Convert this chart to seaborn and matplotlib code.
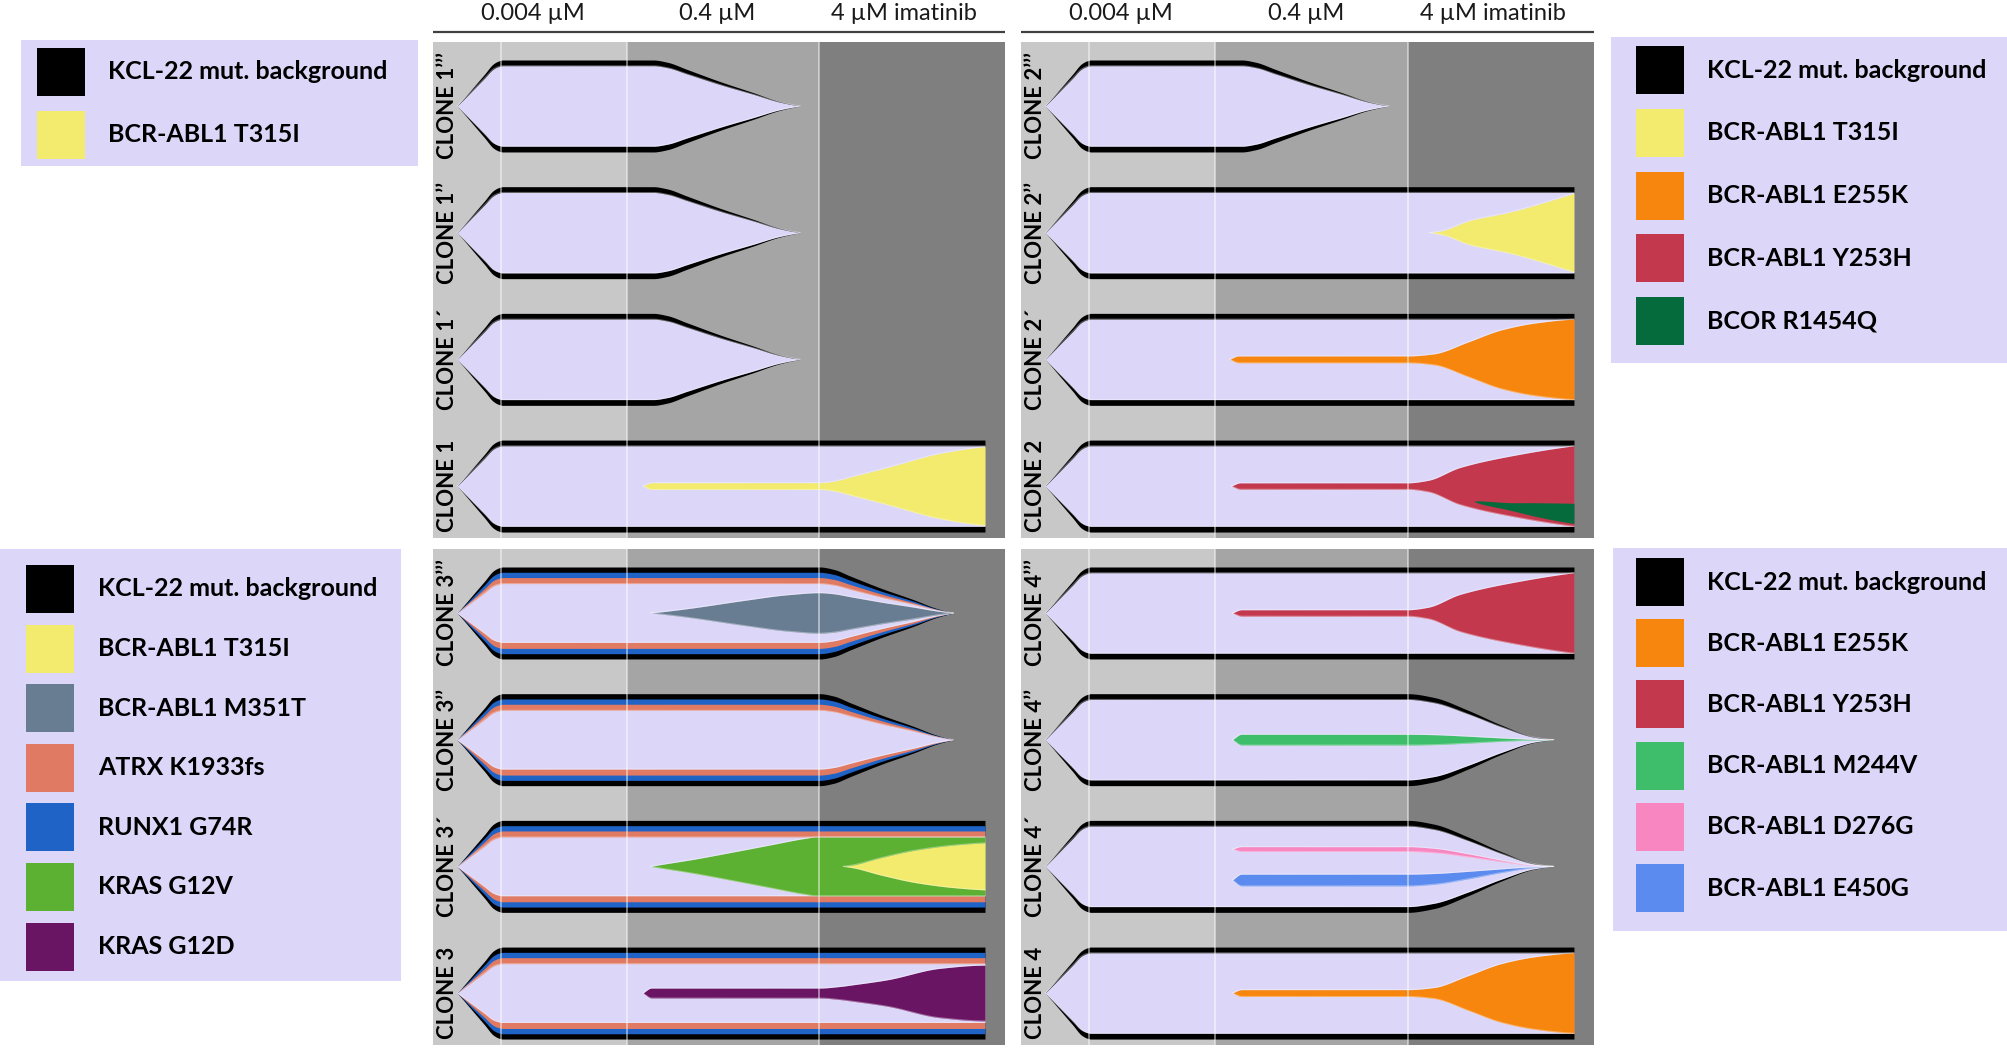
import numpy as np
import matplotlib
matplotlib.use("Agg")
import matplotlib.pyplot as plt
import seaborn as sns

sns.set_theme(style="white")
plt.rcParams['font.family'] = ['Lato', 'DejaVu Sans']

# ------------------------------------------------------------------ data
DOSES = ["0.004 µM", "0.4 µM", "4 µM imatinib"]
DOSE_LABEL_X = [17.5, 49.7, 82.4]
BAND_EDGES = [0, 33.9, 67.5, 100]      # dose schedule on the time axis
PLATEAU_MARK = 11.9

# root (KCL-22 background) size profiles, fraction of full fish height
FISH_EARLY_T = [4.2, 5.0, 7.0, 9.0, 10.6, 11.5, 12.2, 38.5, 41.0, 44.3, 50.2, 56.0, 60.5, 64.2]
FISH_EARLY_S = [0, 0.11, 0.40, 0.69, 0.92, 0.98, 1.0, 1.0, 0.95, 0.80, 0.53, 0.29, 0.10, 0]
FISH_MID_T = [4.2, 5.0, 7.0, 9.0, 10.6, 11.5, 12.2, 67.6, 70.0, 73.0, 78.5, 84.0, 88.0, 91.0]
FISH_MID_S = [0, 0.11, 0.40, 0.69, 0.92, 0.98, 1.0, 1.0, 0.95, 0.80, 0.53, 0.29, 0.10, 0]
FISH_LATE_T = [4.2, 5.0, 7.0, 9.0, 10.6, 11.5, 12.2, 67.5, 72.0, 78.0, 83.8, 89.6, 93.0]
FISH_LATE_S = [0, 0.11, 0.40, 0.69, 0.92, 0.98, 1.0, 1.0, 0.92, 0.64, 0.32, 0.06, 0]
FISH_FULL_T = [4.2, 5.0, 7.0, 9.0, 10.6, 11.5, 12.2, 96.5]
FISH_FULL_S = [0, 0.11, 0.40, 0.69, 0.92, 0.98, 1.0, 1.0]

# constant nested layers (fraction of parent)
LAYER_T = [0, 100]
PARENTAL_REL = [0.875, 0.875]
RUNX1_REL = [0.885, 0.885]
ATRX_REL = [0.87, 0.87]
PARENTAL3_REL = [0.83, 0.83]

# subclone profiles, fraction of parent population
T315I_C1_T = [36.7, 38.3, 67.7, 70.0, 73.4, 79.4, 88.6, 96.5]
T315I_C1_S = [0, 0.084, 0.084, 0.12, 0.24, 0.46, 0.81, 0.98]
T315I_C2_T = [71.3, 73.5, 78.3, 85.0, 91.8, 96.5]
T315I_C2_S = [0, 0.05, 0.30, 0.50, 0.77, 0.98]
E255K_C2_T = [36.4, 38.0, 67.5, 72.0, 78.0, 83.8, 89.6, 96.5]
E255K_C2_S = [0, 0.085, 0.085, 0.135, 0.43, 0.73, 0.90, 1.0]
Y253H_C2_T = [36.7, 38.3, 67.5, 71.0, 76.6, 86.7, 96.5]
Y253H_C2_S = [0, 0.08, 0.08, 0.14, 0.46, 0.78, 1.0]
BCOR_T = [79.0, 79.8, 85.0, 90.0, 96.5]
BCOR_S = [0, 0.05, 0.12, 0.20, 0.25]
BCOR_POS = -0.34
M351T_T = [38.0, 40.0, 44.6, 54.5, 62.0, 67.6, 91.0]
M351T_S = [0, 0.04, 0.15, 0.43, 0.62, 0.69, 0.69]
G12V_T = [38.0, 39.5, 45.0, 52.0, 59.0, 65.0, 67.0, 96.5]
G12V_S = [0, 0.05, 0.22, 0.47, 0.73, 0.95, 1.0, 1.0]
T315I_C3_T = [71.7, 73.5, 78.0, 84.6, 91.4, 96.5]
T315I_C3_S = [0, 0.05, 0.28, 0.56, 0.73, 0.80]
G12D_T = [36.7, 38.2, 67.6, 71.0, 73.4, 79.4, 88.6, 96.5]
G12D_S = [0, 0.17, 0.17, 0.22, 0.28, 0.45, 0.84, 0.95]
Y253H_C4_T = [36.9, 38.5, 67.5, 71.0, 76.6, 86.7, 96.5]
Y253H_C4_S = [0, 0.08, 0.08, 0.14, 0.46, 0.78, 1.0]
M244V_T = [36.9, 38.5, 93.0]
M244V_S = [0, 0.135, 0.135]
D276G_T = [36.9, 38.5, 93.0]
D276G_S = [0, 0.06, 0.06]
D276G_POS = 0.215
E450G_T = [36.9, 38.5, 93.0]
E450G_S = [0, 0.146, 0.146]
E450G_POS = -0.17
E255K_C4_T = [36.9, 38.5, 67.5, 72.0, 78.0, 83.8, 89.6, 96.5]
E255K_C4_S = [0, 0.085, 0.085, 0.135, 0.43, 0.73, 0.90, 1.0]

LABELS_1 = ["CLONE 1’’’", "CLONE 1’’", "CLONE 1´", "CLONE 1"]
LABELS_2 = ["CLONE 2’’’", "CLONE 2’’", "CLONE 2´", "CLONE 2"]
LABELS_3 = ["CLONE 3’’’", "CLONE 3’’", "CLONE 3´", "CLONE 3"]
LABELS_4 = ["CLONE 4’’’", "CLONE 4’’", "CLONE 4´", "CLONE 4"]

LEGEND_1 = ["KCL-22 mut. background", "BCR-ABL1 T315I"]
LEGEND_2 = ["KCL-22 mut. background", "BCR-ABL1 T315I", "BCR-ABL1 E255K",
            "BCR-ABL1 Y253H", "BCOR R1454Q"]
LEGEND_3 = ["KCL-22 mut. background", "BCR-ABL1 T315I", "BCR-ABL1 M351T",
            "ATRX K1933fs", "RUNX1 G74R", "KRAS G12V", "KRAS G12D"]
LEGEND_4 = ["KCL-22 mut. background", "BCR-ABL1 E255K", "BCR-ABL1 Y253H",
            "BCR-ABL1 M244V", "BCR-ABL1 D276G", "BCR-ABL1 E450G"]

# ------------------------------------------------------------------ style
COLORS = {
    "KCL-22 mut. background": "#000000",
    "BCR-ABL1 T315I": "#F2EB6E",
    "BCR-ABL1 M351T": "#687D92",
    "ATRX K1933fs": "#E07A63",
    "RUNX1 G74R": "#1F63C6",
    "KRAS G12V": "#5CB133",
    "KRAS G12D": "#6A1464",
    "BCR-ABL1 E255K": "#F7860F",
    "BCR-ABL1 Y253H": "#C3384D",
    "BCOR R1454Q": "#066B3C",
    "BCR-ABL1 M244V": "#3EBD6B",
    "BCR-ABL1 D276G": "#F886C1",
    "BCR-ABL1 E450G": "#5B8BEE",
    "parental": "#DCD7F8",
}
LEG_BG = "#DCD6F8"
BAND_COLORS = ["#C8C8C8", "#A5A5A5", "#7F7F7F"]
FISH_H = 0.726

W, H = 2008, 1048
fig = plt.figure(figsize=(W / 100, H / 100), dpi=100, facecolor="white")


def frac(box):
    x0, y0, x1, y1 = box
    return [x0 / W, 1 - y1 / H, (x1 - x0) / W, (y1 - y0) / H]


def pchip(xk, yk, x):
    xk = np.asarray(xk, float)
    yk = np.asarray(yk, float)
    n = len(xk)
    h = np.diff(xk)
    dl = np.diff(yk) / h
    d = np.zeros(n)
    if n == 2:
        d[:] = dl[0]
    else:
        for k in range(1, n - 1):
            if dl[k - 1] * dl[k] <= 0:
                d[k] = 0.0
            else:
                w1 = 2 * h[k] + h[k - 1]
                w2 = h[k] + 2 * h[k - 1]
                d[k] = (w1 + w2) / (w1 / dl[k - 1] + w2 / dl[k])

        def ends(h0, h1, m0, m1):
            dd = ((2 * h0 + h1) * m0 - h0 * m1) / (h0 + h1)
            if np.sign(dd) != np.sign(m0):
                dd = 0.0
            elif np.sign(m0) != np.sign(m1) and abs(dd) > abs(3 * m0):
                dd = 3 * m0
            return dd
        d[0] = ends(h[0], h[1], dl[0], dl[1])
        d[-1] = ends(h[-1], h[-2], dl[-1], dl[-2])
    out = np.full(x.shape, np.nan)
    valid = (x >= xk[0]) & (x <= xk[-1])
    idx = np.clip(np.searchsorted(xk, x, side="right") - 1, 0, n - 2)
    hh = h[idx]
    s = (x - xk[idx]) / hh
    h00 = 2 * s**3 - 3 * s**2 + 1
    h10 = s**3 - 2 * s**2 + s
    h01 = -2 * s**3 + 3 * s**2
    h11 = s**3 - s**2
    val = h00 * yk[idx] + h10 * hh * d[idx] + h01 * yk[idx + 1] + h11 * hh * d[idx + 1]
    out[valid] = np.clip(val[valid], 0, None)
    return out


TGRID = np.linspace(0, 100, 4001)


def draw_fish(ax, row, nodes):
    sizes, cents = [], []
    for z, (color, parent, T, S, pos, halo) in enumerate(nodes):
        prof = pchip(T, S, TGRID)
        if parent is None:
            size = prof
            cen = np.zeros_like(prof)
        else:
            size = prof * sizes[parent]
            cen = cents[parent] + pos * sizes[parent]
        sizes.append(size)
        cents.append(cen)
        ok = np.isfinite(size) & (size > 1e-4)
        top = row - (cen + size / 2) * FISH_H
        bot = row - (cen - size / 2) * FISH_H
        ax.fill_between(TGRID, np.where(ok, top, np.nan), np.where(ok, bot, np.nan),
                        where=ok, color=color, lw=0, zorder=2 + z)
        if halo:
            for edge in (top, bot):
                ax.plot(TGRID, np.where(ok, edge, np.nan), color="white",
                        lw=0.8, alpha=0.35, zorder=2 + z + 0.5)


BG = COLORS["KCL-22 mut. background"]
PAR = COLORS["parental"]


def base(T, S):
    return [(BG, None, T, S, 0, False), (PAR, 0, LAYER_T, PARENTAL_REL, 0, True)]


def base3(T, S):
    return [(BG, None, T, S, 0, False),
            (COLORS["RUNX1 G74R"], 0, LAYER_T, RUNX1_REL, 0, False),
            (COLORS["ATRX K1933fs"], 1, LAYER_T, ATRX_REL, 0, False),
            (PAR, 2, LAYER_T, PARENTAL3_REL, 0, True)]


CLONES_1 = [
    base(FISH_EARLY_T, FISH_EARLY_S),
    base(FISH_EARLY_T, FISH_EARLY_S),
    base(FISH_EARLY_T, FISH_EARLY_S),
    base(FISH_FULL_T, FISH_FULL_S) + [(COLORS["BCR-ABL1 T315I"], 1, T315I_C1_T, T315I_C1_S, 0, True)],
]
CLONES_2 = [
    base(FISH_EARLY_T, FISH_EARLY_S),
    base(FISH_FULL_T, FISH_FULL_S) + [(COLORS["BCR-ABL1 T315I"], 1, T315I_C2_T, T315I_C2_S, 0, True)],
    base(FISH_FULL_T, FISH_FULL_S) + [(COLORS["BCR-ABL1 E255K"], 1, E255K_C2_T, E255K_C2_S, 0, True)],
    base(FISH_FULL_T, FISH_FULL_S) + [(COLORS["BCR-ABL1 Y253H"], 1, Y253H_C2_T, Y253H_C2_S, 0, True),
                                      (COLORS["BCOR R1454Q"], 2, BCOR_T, BCOR_S, BCOR_POS, False)],
]
CLONES_3 = [
    base3(FISH_MID_T, FISH_MID_S) + [(COLORS["BCR-ABL1 M351T"], 3, M351T_T, M351T_S, 0, True)],
    base3(FISH_MID_T, FISH_MID_S),
    base3(FISH_FULL_T, FISH_FULL_S) + [(COLORS["KRAS G12V"], 3, G12V_T, G12V_S, 0, True),
                                       (COLORS["BCR-ABL1 T315I"], 4, T315I_C3_T, T315I_C3_S, 0, True)],
    base3(FISH_FULL_T, FISH_FULL_S) + [(COLORS["KRAS G12D"], 3, G12D_T, G12D_S, 0, True)],
]
CLONES_4 = [
    base(FISH_FULL_T, FISH_FULL_S) + [(COLORS["BCR-ABL1 Y253H"], 1, Y253H_C4_T, Y253H_C4_S, 0, True)],
    base(FISH_LATE_T, FISH_LATE_S) + [(COLORS["BCR-ABL1 M244V"], 1, M244V_T, M244V_S, 0, True)],
    base(FISH_LATE_T, FISH_LATE_S) + [(COLORS["BCR-ABL1 D276G"], 1, D276G_T, D276G_S, D276G_POS, True),
                                      (COLORS["BCR-ABL1 E450G"], 1, E450G_T, E450G_S, E450G_POS, True)],
    base(FISH_FULL_T, FISH_FULL_S) + [(COLORS["BCR-ABL1 E255K"], 1, E255K_C4_T, E255K_C4_S, 0, True)],
]


def draw_panel(box, labels, clones):
    ax = fig.add_axes(frac(box))
    ax.set_xlim(0, 100)
    ax.set_ylim(3.41, -0.505)
    ax.axis("off")
    for i, (lo, hi) in enumerate(zip(BAND_EDGES[:-1], BAND_EDGES[1:])):
        ax.axvspan(lo, hi, color=BAND_COLORS[i], lw=0, zorder=0)
    for row, (lab, nodes) in enumerate(zip(labels, clones)):
        draw_fish(ax, row, nodes)
        ax.text(2.45, row, lab, rotation=90, ha="center", va="center",
                fontsize=16, fontweight="bold", color="black", zorder=30)
    for x in [PLATEAU_MARK] + BAND_EDGES[1:-1]:
        ax.axvline(x, color="white", lw=1.3, alpha=0.5, zorder=25)


def draw_header(box):
    ax = fig.add_axes(frac(box))
    ax.set_xlim(0, 100)
    ax.set_ylim(box[3] - box[1], 0)
    ax.axis("off")
    ax.axhline(32, color="#404040", lw=1.6)
    for m, lab in zip(DOSE_LABEL_X, DOSES):
        ax.text(m, 14, lab, ha="center", va="center", fontsize=17, color="#1a1a1a")


def draw_legend(box, items, row0, step, sw_x, txt_x):
    ax = fig.add_axes(frac(box))
    w, h = box[2] - box[0], box[3] - box[1]
    ax.set_xlim(0, w)
    ax.set_ylim(h, 0)
    ax.set_facecolor(LEG_BG)
    ax.set_xticks([])
    ax.set_yticks([])
    sns.despine(ax=ax, left=True, bottom=True)
    ys = row0 + step * np.arange(len(items))
    ax.scatter([sw_x] * len(items), ys, marker="s", s=(48 * 0.72) ** 2,
               c=[COLORS[i] for i in items], linewidths=0)
    for y, lab in zip(ys, items):
        ax.text(txt_x, y, lab, ha="left", va="center", fontsize=18,
                fontweight="bold", color="black")


draw_header((433, 0, 1005, 42))
draw_header((1021, 0, 1594, 42))
draw_panel((433, 42, 1005, 538), LABELS_1, CLONES_1)
draw_panel((1021, 42, 1594, 538), LABELS_2, CLONES_2)
draw_panel((433, 549, 1005, 1045), LABELS_3, CLONES_3)
draw_panel((1021, 549, 1594, 1045), LABELS_4, CLONES_4)

draw_legend((21, 40, 418, 166), LEGEND_1, 31.5, 63.5, 40, 87)
draw_legend((1611, 37, 2008, 363), LEGEND_2, 33, 62.8, 49, 96)
draw_legend((0, 549, 401, 981), LEGEND_3, 40, 59.6, 50, 98)
draw_legend((1613, 548, 2008, 931), LEGEND_4, 34, 61.2, 47, 94)

fig.savefig("out.png", dpi=100, facecolor="white")
